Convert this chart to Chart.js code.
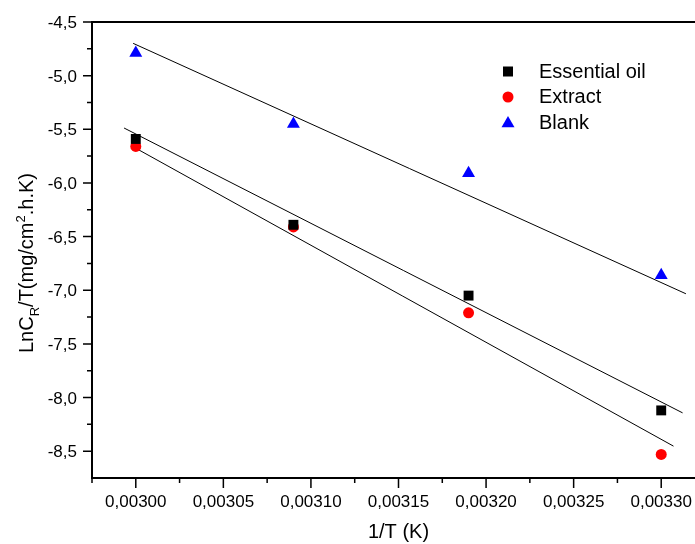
<!DOCTYPE html>
<html>
<head>
<meta charset="utf-8">
<script src="https://cdn.jsdelivr.net/npm/chart.js@4/dist/chart.umd.min.js"></script>
<style>
  html, body { margin: 0; padding: 0; background: #fff; overflow: hidden; }
  #wrap { position: relative; width: 715px; height: 544px; }
</style>
</head>
<body>
<div id="wrap"><canvas id="chart"></canvas></div>
<script>
'use strict';

/* ---------- data ---------- */
const invT = [0.00300, 0.00309, 0.00319, 0.00330];
const essentialOil = [-5.59, -6.39, -7.05, -8.12];
const extract = [-5.66, -6.41, -7.21, -8.53];
const blank = [-4.79, -5.45, -5.91, -6.86];

// fitted straight lines: two end points each
const oilFitX = [0.0029933, 0.0033122];
const oilFitY = [-5.488, -8.143];
const extractFitX = [0.0029973, 0.0033070];
const extractFitY = [-5.652, -8.453];
const blankFitX = [0.0029985, 0.0033141];
const blankFitY = [-4.699, -7.033];

const xTicks = [0.00300, 0.00305, 0.00310, 0.00315, 0.00320, 0.00325, 0.00330];
const yTicks = [-4.5, -5.0, -5.5, -6.0, -6.5, -7.0, -7.5, -8.0, -8.5];
const xRange = [0.002975, 0.003325];
const yRange = [-8.75, -4.5];

const seriesNames = ['Essential oil', 'Extract', 'Blank'];

/* ---------- helpers ---------- */
const FONT = "'Liberation Sans', Arial, sans-serif";
const toPts = (xs, ys) => xs.map((x, i) => ({ x, y: ys[i] }));
const fmtX = v => v.toFixed(5).replace('.', ',');
const fmtY = v => v.toFixed(1).replace('.', ',');

function minors(majors, range) {
    const half = Math.abs(majors[1] - majors[0]) / 2;
    const lo = Math.min(...range), hi = Math.max(...range);
    const out = [majors[0] - half, ...majors.map(t => t + half)];
    return out.filter(v => v >= lo - half * 1e-6 && v <= hi + half * 1e-6);
}

function marker(ctx, style, x, y) {
    ctx.beginPath();
    if (style === 'rect') {
        ctx.fillStyle = '#000';
        ctx.rect(x - 5, y - 5, 10, 10);
    } else if (style === 'circle') {
        ctx.fillStyle = '#ff0000';
        ctx.arc(x, y, 5.5, 0, Math.PI * 2);
    } else {
        ctx.fillStyle = '#0000ff';
        ctx.moveTo(x, y - 7.5);
        ctx.lineTo(x + 6.5, y + 3.75);
        ctx.lineTo(x - 6.5, y + 3.75);
        ctx.closePath();
    }
    ctx.fill();
}

/* ---------- frame, ticks, labels, legend ---------- */
const axesPlugin = {
    id: 'originAxes',
    beforeDatasetsDraw(chart) {
        const { ctx, chartArea: a, scales: { x, y } } = chart;
        ctx.save();
        ctx.strokeStyle = '#000';

        // ticks
        ctx.lineWidth = 1.5;
        ctx.beginPath();
        xTicks.forEach(v => { const px = x.getPixelForValue(v); ctx.moveTo(px, a.bottom); ctx.lineTo(px, a.bottom + 10); });
        minors(xTicks, xRange).forEach(v => { const px = x.getPixelForValue(v); ctx.moveTo(px, a.bottom); ctx.lineTo(px, a.bottom + 5); });
        yTicks.forEach(v => { const py = y.getPixelForValue(v); ctx.moveTo(a.left, py); ctx.lineTo(a.left - 9, py); });
        minors(yTicks, yRange).forEach(v => { const py = y.getPixelForValue(v); ctx.moveTo(a.left, py); ctx.lineTo(a.left - 5, py); });
        ctx.stroke();

        // frame
        ctx.lineWidth = 2;
        ctx.strokeRect(a.left, a.top, a.right - a.left, a.bottom - a.top);

        // tick labels
        ctx.fillStyle = '#000';
        ctx.font = '17px ' + FONT;
        ctx.textAlign = 'center';
        ctx.textBaseline = 'alphabetic';
        xTicks.forEach(v => ctx.fillText(fmtX(v), x.getPixelForValue(v), a.bottom + 29));
        ctx.textAlign = 'right';
        yTicks.forEach(v => ctx.fillText(fmtY(v), a.left - 15, y.getPixelForValue(v) + 6));

        // x title, centred on the plot frame
        ctx.font = '20px ' + FONT;
        ctx.textAlign = 'center';
        ctx.fillText('1/T (K)', (a.left + a.right) / 2, 538);

        // y title with subscript and superscript
        ctx.translate(33, 353);
        ctx.rotate(-Math.PI / 2);
        ctx.textAlign = 'left';
        let cx = 0;
        const piece = (txt, size, dy) => {
            ctx.font = size + 'px ' + FONT;
            ctx.fillText(txt, cx, dy);
            cx += ctx.measureText(txt).width;
        };
        piece('LnC', 20, 0);
        piece('R', 13, 6);
        piece('/T(mg/cm', 20, 0);
        piece('2', 13, -8);
        piece('.h.K)', 20, 0);
        ctx.restore();
    },
    afterDraw(chart) {
        const { ctx } = chart;
        ctx.save();
        const styles = ['rect', 'circle', 'triangle'];
        const rowsY = [71.5, 97, 123.6];
        const baseY = [77.7, 103.3, 129.3];
        ctx.font = '20px ' + FONT;
        ctx.textAlign = 'left';
        ctx.textBaseline = 'alphabetic';
        seriesNames.forEach((name, i) => {
            marker(ctx, styles[i], 508, rowsY[i]);
            ctx.fillStyle = '#000';
            ctx.fillText(name, 539, baseY[i]);
        });
        ctx.restore();
    },
};

/* ---------- chart ---------- */
const pointSet = (label, ys, style, color, radius) => ({
    label,
    data: toPts(invT, ys),
    showLine: false,
    pointStyle: style,
    pointRadius: radius,
    pointHoverRadius: radius,
    pointBackgroundColor: color,
    pointBorderColor: color,
    pointBorderWidth: 0,
});

const fitSet = (label, xs, ys) => ({
    label,
    data: toPts(xs, ys),
    showLine: true,
    borderColor: '#000',
    borderWidth: 1,
    pointRadius: 0,
    fill: false,
});

new Chart(document.getElementById('chart'), {
    type: 'scatter',
    data: {
        datasets: [
            pointSet(seriesNames[0], essentialOil, 'rect', '#000000', 7),
            pointSet(seriesNames[1], extract, 'circle', '#ff0000', 5.5),
            pointSet(seriesNames[2], blank, 'triangle', '#0000ff', 7.5),
            fitSet('Essential oil fit', oilFitX, oilFitY),
            fitSet('Extract fit', extractFitX, extractFitY),
            fitSet('Blank fit', blankFitX, blankFitY),
        ],
    },
    options: {
        responsive: true,
        maintainAspectRatio: false,
        animation: false,
        events: [],
        layout: { padding: { left: 92, top: 22, right: 10, bottom: 66 } },
        plugins: { legend: { display: false }, tooltip: { enabled: false } },
        scales: {
            x: { type: 'linear', display: false, min: xRange[0], max: xRange[1] },
            y: { type: 'linear', display: false, min: yRange[0], max: yRange[1] },
        },
    },
    plugins: [axesPlugin],
});
</script>
</body>
</html>
